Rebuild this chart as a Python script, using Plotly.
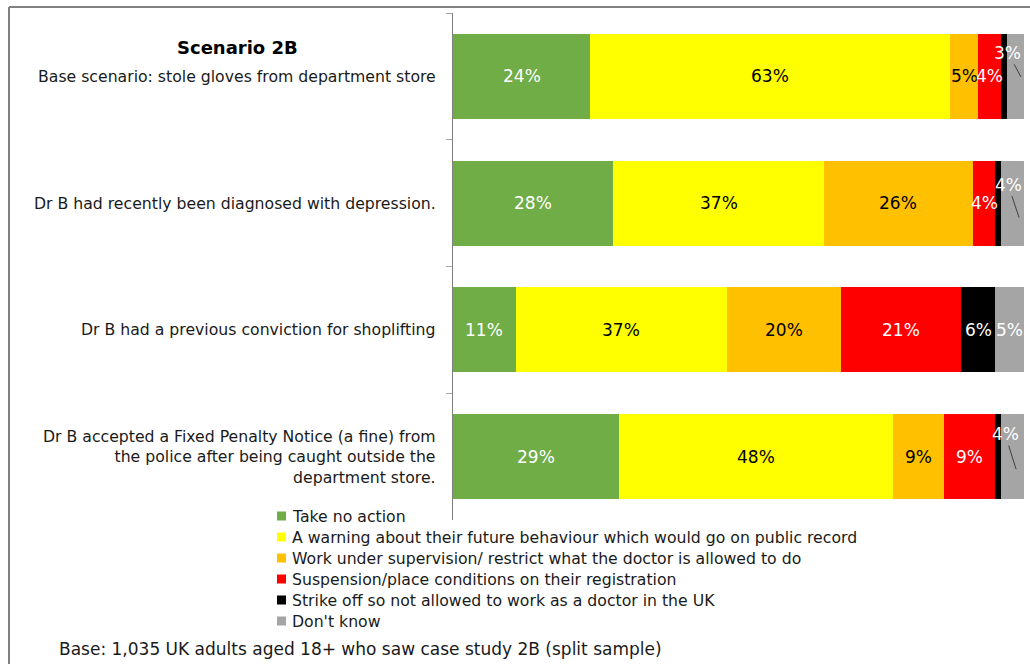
import plotly.graph_objects as go

# ---------------- data ----------------
categories = [
    "Base scenario: stole gloves from department store",
    "Dr B had recently been diagnosed with depression.",
    "Dr B had a previous conviction for shoplifting",
    "Dr B accepted a Fixed Penalty Notice (a fine) from<br>the police after being caught outside the<br>department store.",
]
series_names = [
    "Take no action",
    "A warning about their future behaviour which would go on public record",
    "Work under supervision/ restrict what the doctor is allowed to do",
    "Suspension/place conditions on their registration",
    "Strike off so not allowed to work as a doctor in the UK",
    "Don't know",
]
take_no_action = [24, 28, 11, 29]
warning = [63, 37, 37, 48]
supervision = [5, 26, 20, 9]
suspension = [4, 4, 21, 9]
strike_off = [1, 1, 6, 1]
dont_know = [3, 4, 5, 4]
values = [take_no_action, warning, supervision, suspension, strike_off, dont_know]

title_text = "Scenario 2B"
footnote = "Base: 1,035 UK adults aged 18+ who saw case study 2B (split sample)"

# ---------------- styles ----------------
colors = ["#70AD47", "#FFFF00", "#FFC000", "#FF0000", "#000000", "#A5A5A5"]
label_colors = ["white", "black", "black", "white", "white", "white"]
FONT = "DejaVu Sans"
TXT = "#1a1a1a"
CAT_SIZE = 15.7
LEG_SIZE = 15.7
LBL_SIZE = 17

W, H = 1030, 664
L, R, T, B = 453, 6, 13, 144
PW, PH = W - L - R, H - T - B

def px_to_paper_x(px):
    return (px - L) / PW

def px_to_paper_y(py):
    return (H - B - py) / PH

# callouts for "Don't know" labels: row -> (text_dx, text_dy, tip_dx, tip_dy) in px
callouts = {0: (-7.5, -23.5, 5.5, 0.5), 1: (-4.5, -18.5, 6.5, 14.5), 3: (-7.5, -22.5, 3.5, 12.5)}

fig = go.Figure()
for name, vals, col in zip(series_names, values, colors):
    fig.add_trace(go.Bar(
        y=categories, x=vals, name=name, orientation="h",
        marker=dict(color=col, line=dict(width=0)),
        hoverinfo="skip", showlegend=False,
    ))

annotations = []
shapes = []
# segment labels
for r, cat in enumerate(categories):
    cum = 0
    for s, vals in enumerate(values):
        v = vals[r]
        center = cum + v / 2
        cum += v
        if v < 2:
            continue
        if s == len(values) - 1 and r in callouts:
            tdx, tdy, pdx, pdy = callouts[r]
            annotations.append(dict(
                x=center, y=cat, xref="x", yref="y", text=f"{v}%",
                showarrow=True, arrowhead=0, arrowwidth=1, arrowcolor="#404040",
                standoff=0, xshift=pdx, yshift=-pdy, ax=tdx - pdx, ay=tdy - pdy,
                font=dict(family=FONT, size=LBL_SIZE, color=label_colors[s]),
            ))
        else:
            annotations.append(dict(
                x=center, y=cat, xref="x", yref="y", text=f"{v}%", showarrow=False,
                font=dict(family=FONT, size=LBL_SIZE, color=label_colors[s]),
            ))

# category labels
for cat in categories:
    annotations.append(dict(
        x=0, y=cat, xref="paper", yref="y", xanchor="right", yanchor="middle",
        xshift=-15, text=cat, align="right", showarrow=False,
        font=dict(family=FONT, size=CAT_SIZE, color=TXT),
    ))
# scenario title
annotations.append(dict(
    x=px_to_paper_x(237), y=categories[0], xref="paper", yref="y",
    xanchor="center", yanchor="middle", yshift=28.5, text=f"<b>{title_text}</b>",
    showarrow=False, font=dict(family=FONT, size=18, color="black"),
))
# footnote
annotations.append(dict(
    x=px_to_paper_x(57), y=px_to_paper_y(649), xref="paper", yref="paper",
    xanchor="left", yanchor="middle", text=footnote, showarrow=False,
    font=dict(family=FONT, size=17, color=TXT),
))

# legend (drawn as swatches + texts)
leg_y0, leg_dy = 516, 21
for i, (name, col) in enumerate(zip(series_names, colors)):
    yc = leg_y0 + i * leg_dy
    shapes.append(dict(
        type="rect", xref="paper", yref="paper",
        x0=px_to_paper_x(277), x1=px_to_paper_x(286),
        y0=px_to_paper_y(yc - 4.5), y1=px_to_paper_y(yc + 4.5),
        fillcolor=col, line=dict(width=0),
    ))
    annotations.append(dict(
        x=px_to_paper_x(290), y=px_to_paper_y(yc), xref="paper", yref="paper",
        xanchor="left", yanchor="middle", text=name, showarrow=False,
        font=dict(family=FONT, size=LEG_SIZE, color=TXT),
    ))

# outer frame lines
shapes += [
    dict(type="line", xref="paper", yref="paper",
         x0=px_to_paper_x(9), x1=px_to_paper_x(1035), y0=px_to_paper_y(7), y1=px_to_paper_y(7),
         line=dict(color="#808080", width=2)),
    dict(type="line", xref="paper", yref="paper",
         x0=px_to_paper_x(9), x1=px_to_paper_x(9), y0=px_to_paper_y(7), y1=px_to_paper_y(670),
         line=dict(color="#808080", width=2)),
]

fig.update_layout(
    width=W, height=H,
    margin=dict(l=L, r=R, t=T, b=B, pad=0),
    barmode="stack", bargap=0.33,
    paper_bgcolor="white", plot_bgcolor="white",
    showlegend=False,
    xaxis=dict(visible=False, range=[0, 100], fixedrange=True),
    yaxis=dict(
        type="category", categoryorder="array", categoryarray=categories,
        autorange="reversed", showticklabels=False, showgrid=False,
        showline=True, linecolor="#808080", linewidth=1,
        ticks="outside", tickson="boundaries", ticklen=6, tickcolor="#A6A6A6",
        zeroline=False, fixedrange=True,
    ),
    annotations=annotations, shapes=shapes,
    font=dict(family=FONT, color=TXT),
)

fig.write_html(
    "out.html",
    config={"displayModeBar": False},
    post_script="document.body.style.margin='0';document.body.style.overflow='hidden';",
)
